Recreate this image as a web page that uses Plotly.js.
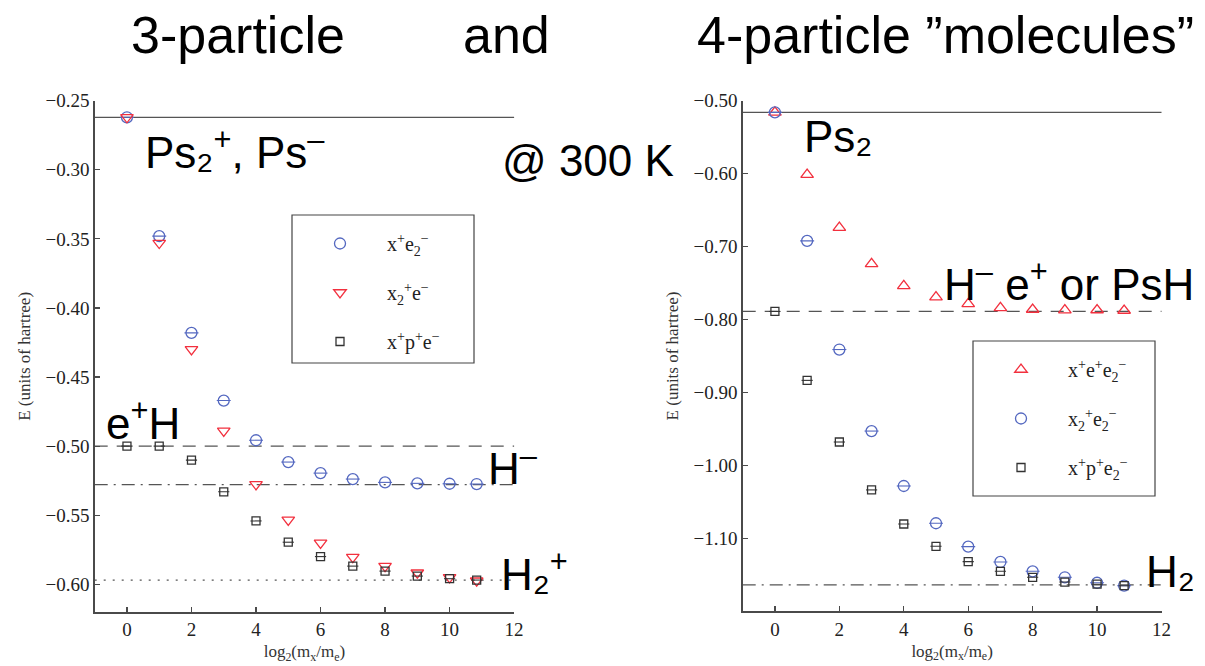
<!DOCTYPE html>
<html>
<head>
<meta charset="utf-8">
<script src="https://cdn.plot.ly/plotly-3.0.1.min.js"></script>
<style>
  html, body { margin: 0; padding: 0; background: #fff; }
  #chart { width: 1205px; height: 666px; }
</style>
</head>
<body>
<div id="chart"></div>
<script>
// log2 of the mass ratio m_x / m_e (last point: proton mass)
const logMass = [0, 1, 2, 3, 4, 5, 6, 7, 8, 9, 10, 10.84];

// 3-particle systems, energies in hartree
const e_xe2 = [-0.262, -0.348, -0.418, -0.467, -0.4957, -0.5115, -0.5195, -0.5238, -0.5262, -0.5269, -0.5272, -0.5274];
const e_x2e = [-0.262, -0.353, -0.430, -0.489, -0.5276, -0.5534, -0.570, -0.5803, -0.5868, -0.5916, -0.595, -0.5974];
const e_xpe = [-0.500, -0.500, -0.5101, -0.533, -0.5541, -0.5695, -0.5799, -0.5868, -0.5904, -0.594, -0.5959, -0.5969];

// 4-particle systems, energies in hartree
const e_xee2 = [-0.516, -0.6014, -0.674, -0.7237, -0.7538, -0.7694, -0.7785, -0.784, -0.7863, -0.7872, -0.787, -0.7877];
const e_x2e2 = [-0.516, -0.6922, -0.8412, -0.953, -1.0283, -1.0794, -1.1115, -1.1325, -1.1453, -1.1535, -1.161, -1.165];
const e_xpe2 = [-0.789, -0.8835, -0.968, -1.0337, -1.0804, -1.111, -1.132, -1.1453, -1.1535, -1.16, -1.163, -1.165];

// Reference energies (hartree)
const ref3 = { Ps: -0.262, eH: -0.500, Hminus: -0.5278, H2plus: -0.597 };
const ref4 = { Ps2: -0.516, PsH: -0.789, H2: -1.164 };

// Legend labels
const names3 = ['x<sup>+</sup>e<sub>2</sub><sup>−</sup>', 'x<sub>2</sub><sup>+</sup>e<sup>−</sup>', 'x<sup>+</sup>p<sup>+</sup>e<sup>−</sup>'];
const names4 = ['x<sup>+</sup>e<sup>+</sup>e<sub>2</sub><sup>−</sup>', 'x<sub>2</sub><sup>+</sup>e<sub>2</sub><sup>−</sup>', 'x<sup>+</sup>p<sup>+</sup>e<sub>2</sub><sup>−</sup>'];

const BLUE = '#5468c0', RED = '#f2303e', BLACK = '#333333', AXIS = '#4a4a4a';
const SERIF = 'Liberation Serif, Times New Roman, serif';
const SANS = 'Liberation Sans, Arial, sans-serif';

function pts(x, y, xa, ya, name, color, symbol, size, legend, group) {
  return {
    x: x, y: y, xaxis: xa, yaxis: ya, type: 'scatter', mode: 'markers', name: name,
    legend: legend, legendgroup: group,
    marker: { symbol: symbol, size: size, color: color, line: { color: color, width: 1.3 } },
    hoverinfo: 'x+y'
  };
}
// small horizontal bar drawn through a marker
function bar(x, y, xa, ya, color, size) {
  return {
    x: x, y: y, xaxis: xa, yaxis: ya, type: 'scatter', mode: 'markers', showlegend: false,
    marker: { symbol: 'line-ew-open', size: size, color: color, line: { color: color, width: 1.1 } },
    hoverinfo: 'skip'
  };
}

const data = [
  pts(logMass, e_xe2, 'x', 'y', names3[0], BLUE, 'circle-open', 11, 'legend', 'a1'),
  bar(logMass, e_xe2, 'x', 'y', BLUE, 10),
  pts(logMass, e_x2e, 'x', 'y', names3[1], RED, 'triangle-down-open', 11, 'legend', 'a2'),
  pts(logMass, e_xpe, 'x', 'y', names3[2], BLACK, 'square-open', 8, 'legend', 'a3'),
  bar(logMass, e_xpe, 'x', 'y', BLACK, 8),

  pts(logMass, e_xee2, 'x2', 'y2', names4[0], RED, 'triangle-up-open', 11, 'legend2', 'b1'),
  pts(logMass, e_x2e2, 'x2', 'y2', names4[1], BLUE, 'circle-open', 11, 'legend2', 'b2'),
  bar(logMass, e_x2e2, 'x2', 'y2', BLUE, 10),
  pts(logMass, e_xpe2, 'x2', 'y2', names4[2], BLACK, 'square-open', 8, 'legend2', 'b3'),
  bar(logMass, e_xpe2, 'x2', 'y2', BLACK, 8)
];

const W = 1205, H = 666;
const px = v => v / W, py = v => 1 - v / H;

function hline(xa, ya, yv, dash) {
  return {
    type: 'line', xref: xa + ' domain', yref: ya, x0: 0, x1: 1, y0: yv, y1: yv,
    line: { color: '#555555', width: 1.3, dash: dash }, layer: 'below'
  };
}
// frame around a legend
function frame(x0, y0, x1, y1) {
  return {
    type: 'rect', xref: 'paper', yref: 'paper', x0: px(x0), x1: px(x1), y0: py(y1), y1: py(y0),
    line: { color: '#444444', width: 1.2 }, fillcolor: 'rgba(0,0,0,0)'
  };
}

const shapes = [
  hline('x', 'y', ref3.Ps, 'solid'),
  hline('x', 'y', ref3.eH, '13px,9px'),
  hline('x', 'y', ref3.Hminus, '13px,6px,2px,6px'),
  hline('x', 'y', ref3.H2plus, '2px,7px'),
  hline('x2', 'y2', ref4.Ps2, 'solid'),
  hline('x2', 'y2', ref4.PsH, '13px,9px'),
  hline('x2', 'y2', ref4.H2, '13px,6px,2px,6px'),
  frame(292, 215, 474, 363),
  frame(973, 341, 1155, 496)
];

function xaxis(domain, anchor) {
  return {
    domain: domain, anchor: anchor, range: [-1, 12], tickvals: [0, 2, 4, 6, 8, 10, 12],
    showline: true, linecolor: AXIS, linewidth: 1.5, mirror: false, zeroline: false, showgrid: false,
    ticks: 'inside', ticklen: 5, tickcolor: AXIS, tickwidth: 1.2,
    tickfont: { family: SERIF, size: 19, color: '#222' },
    title: { text: 'log<sub>2</sub>(m<sub>x</sub>/m<sub>e</sub>)', font: { family: SERIF, size: 17, color: '#333' }, standoff: 6 }
  };
}
function yaxis(domain, anchor, range, tickvals) {
  return {
    domain: domain, anchor: anchor, range: range, tickvals: tickvals, tickformat: '.2f',
    showline: true, linecolor: AXIS, linewidth: 1.5, zeroline: false, showgrid: false,
    ticks: 'inside', ticklen: 5, tickcolor: AXIS, tickwidth: 1.2,
    tickfont: { family: SERIF, size: 19, color: '#222' },
    title: { text: 'E (units of hartree)', font: { family: SERIF, size: 17, color: '#333' }, standoff: 10 }
  };
}

function label(text, x, y, size, anchor) {
  return {
    text: text, xref: 'paper', yref: 'paper', x: px(x), y: py(y), xanchor: anchor || 'left', yanchor: 'middle',
    showarrow: false, font: { family: SANS, size: size, color: '#000' }
  };
}

const annotations = [
  label('3-particle', 129, 35, 52),
  label('and', 461, 35, 52),
  label('4-particle ”molecules”', 695, 35, 52),
  label('Ps₂<sup>+</sup>, Ps<sup>–</sup>', 143, 149, 44),
  label('@ 300 K', 500, 160, 44),
  label('e<sup>+</sup>H', 104, 420, 44),
  label('H<sup>–</sup>', 486, 465, 44),
  label('H₂<sup>+</sup>', 499, 571, 44),
  label('Ps₂', 802, 137, 44),
  label('H<sup>–</sup> e<sup>+</sup> or PsH', 942, 281, 44),
  label('H₂', 1144, 571, 44)
];

const legendStyle = {
  font: { family: SERIF, size: 20, color: '#222' },
  bgcolor: 'rgba(255,255,255,0)', borderwidth: 0,
  xanchor: 'left', yanchor: 'top', itemwidth: 84, tracegroupgap: 20, traceorder: 'grouped'
};

const layout = {
  width: W, height: H, paper_bgcolor: '#fff', plot_bgcolor: 'rgba(0,0,0,0)',
  margin: { l: 0, r: 0, t: 0, b: 0 }, showlegend: true,
  xaxis: xaxis([px(94.7), px(514.1)], 'y'),
  yaxis: yaxis([py(612), py(100.7)], 'x', [-0.62, -0.25], [-0.60, -0.55, -0.50, -0.45, -0.40, -0.35, -0.30, -0.25]),
  xaxis2: xaxis([px(742.7), px(1161.5)], 'y2'),
  yaxis2: yaxis([py(611.2), py(100.7)], 'x2', [-1.2, -0.5], [-1.1, -1.0, -0.9, -0.8, -0.7, -0.6, -0.5]),
  legend: Object.assign({ x: px(293), y: py(224) }, legendStyle),
  legend2: Object.assign({ x: px(974), y: py(350) }, legendStyle),
  shapes: shapes,
  annotations: annotations
};

Plotly.newPlot('chart', data, layout, { displayModeBar: false, staticPlot: true });
</script>
</body>
</html>
